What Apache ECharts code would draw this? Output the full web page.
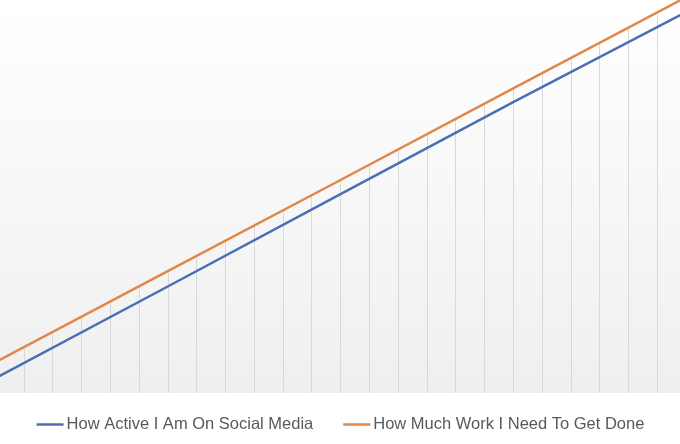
<!DOCTYPE html>
<html>
<head>
<meta charset="utf-8">
<script src="https://cdn.jsdelivr.net/npm/echarts@6/dist/echarts.min.js"></script>
<style>html,body{margin:0;padding:0;background:#fff;overflow:hidden;}#c{width:690.5px;height:444px;margin-left:-4.77px;}</style>
</head>
<body>
<div id="c"></div>
<script>
// x positions (category steps) and series values
var xSteps = [0, 6, 12, 18, 24];
var socialMedia = [3.7, 27.1, 50.6, 74.0, 96.9];
var workToDo = [7.8, 31.0, 54.2, 77.5, 100.7];
var seriesNames = ['How Active I Am On Social Media', 'How Much Work I Need To Get Done'];

function pairs(xs, ys) { return xs.map(function (x, i) { return [x, ys[i]]; }); }

var chart = echarts.init(document.getElementById('c'));
var bgGrad = function (global) {
  return new echarts.graphic.LinearGradient(0, 0, 0, global ? 393 : 1, [
    { offset: 0, color: '#ffffff' },
    { offset: 1, color: '#efefef' }
  ], global);
};
chart.setOption({
  animation: false,
  backgroundColor: '#ffffff',
  grid: { left: 0, right: 0, top: 0, bottom: 51, show: true, borderWidth: 0, backgroundColor: bgGrad(false) },
  xAxis: {
    type: 'value', min: 0, max: 24, interval: 1,
    axisLine: { show: false }, axisTick: { show: false }, axisLabel: { show: false },
    splitLine: { show: true, lineStyle: { color: '#d9d9d9', width: 1 } }
  },
  yAxis: {
    type: 'value', min: 0, max: 100,
    axisLine: { show: false }, axisTick: { show: false }, axisLabel: { show: false },
    splitLine: { show: false }
  },
  legend: {
    data: seriesNames,
    left: 'center', top: 411, itemWidth: 27, itemHeight: 20, itemGap: 30,
    textStyle: { fontFamily: 'Liberation Sans', fontSize: 16.5, color: '#595959', padding: [0, 0, 0, -2] },
    icon: 'path://M0,0 L27,0 L27,2.5 L0,2.5 Z'
  },
  series: [
    {
      type: 'line', data: pairs(xSteps, workToDo), symbol: 'none', silent: true,
      lineStyle: { opacity: 0, width: 0 },
      areaStyle: { origin: 'end', color: bgGrad(true), opacity: 1 },
      z: 1
    },
    {
      name: seriesNames[0], type: 'line', data: pairs(xSteps, socialMedia), symbol: 'none',
      itemStyle: { color: '#4A6FB5' }, lineStyle: { color: '#4A6FB5', width: 2.5 }, z: 3
    },
    {
      name: seriesNames[1], type: 'line', data: pairs(xSteps, workToDo), symbol: 'none',
      itemStyle: { color: '#E0884A' }, lineStyle: { color: '#E0884A', width: 2.5 }, z: 3
    }
  ]
});
</script>
</body>
</html>
